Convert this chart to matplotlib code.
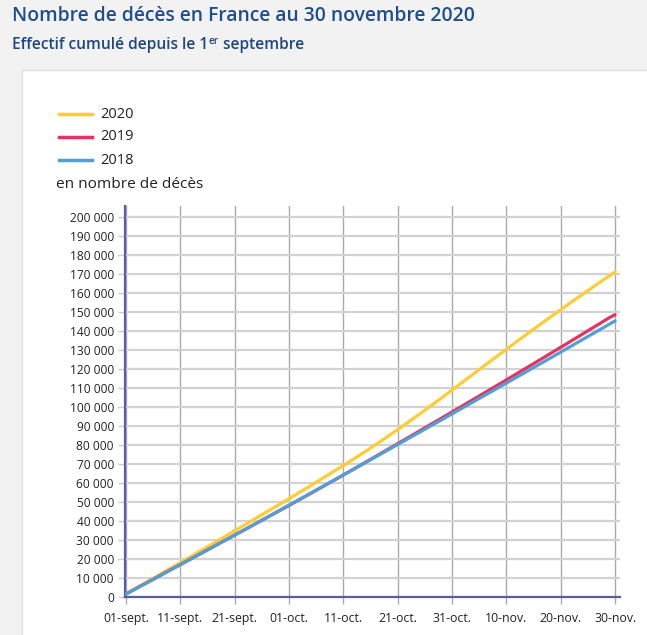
import matplotlib.pyplot as plt
from matplotlib.patches import Rectangle
from matplotlib.ticker import FuncFormatter

plt.rcParams['font.family'] = ['Open Sans', 'DejaVu Sans']

# cumulative deaths since 1 September, one value per day (01-sept. .. 30-nov.)
deaths_2020 = [1620, 3250, 4880, 6560, 8170, 9790, 11460, 13150, 14800, 16420,
               18050, 19730, 21390, 23080, 24760, 26400, 28080, 29790, 31470, 33180,
               34850, 36540, 38200, 39860, 41590, 43300, 44990, 46650, 48320, 50010,
               51720, 53450, 55200, 56930, 58660, 60420, 62190, 63950, 65740, 67530,
               69200, 71000, 72830, 74680, 76520, 78400, 80300, 82230, 84180, 86140,
               88120, 90130, 92150, 94190, 96250, 98330, 100420, 102530, 104650, 106800,
               108950, 111100, 113250, 115430, 117580, 119730, 121870, 124010, 126150, 128280,
               130410, 132530, 134650, 136760, 138860, 140950, 143030, 145100, 147150, 149190,
               151220, 153270, 155310, 157330, 159330, 161320, 163300, 165260, 167210, 169150,
               171080]
deaths_2019 = [1600, 3150, 4700, 6250, 7800, 9320, 10870, 12430, 13980, 15530,
               17080, 18620, 20150, 21700, 23260, 24800, 26350, 27900, 29460, 31010,
               32560, 34110, 35670, 37220, 38790, 40350, 41910, 43470, 45040, 46610,
               48180, 49770, 51360, 52950, 54550, 56150, 57760, 59370, 60990, 62610,
               64240, 65870, 67510, 69150, 70790, 72440, 74090, 75740, 77400, 79060,
               80720, 82380, 84040, 85700, 87370, 89040, 90710, 92380, 94050, 95720,
               97400, 99080, 100760, 102440, 104130, 105820, 107510, 109200, 110890, 112590,
               114290, 115990, 117690, 119400, 121110, 122820, 124540, 126260, 127980, 129710,
               131440, 133170, 134900, 136640, 138380, 140120, 141870, 143620, 145370, 147130,
               148600]
deaths_2018 = [1520, 3060, 4600, 6150, 7700, 9250, 10800, 12350, 13900, 15460,
               17010, 18560, 20120, 21680, 23240, 24800, 26360, 27920, 29480, 31040,
               32600, 34170, 35740, 37310, 38880, 40450, 42020, 43600, 45180, 46760,
               48340, 49920, 51500, 53080, 54670, 56260, 57850, 59440, 61030, 62620,
               64220, 65820, 67420, 69020, 70620, 72220, 73830, 75440, 77050, 78660,
               80270, 81880, 83490, 85100, 86710, 88320, 89930, 91540, 93160, 94780,
               96400, 98020, 99640, 101260, 102880, 104500, 106120, 107740, 109360, 110980,
               112600, 114230, 115860, 117490, 119120, 120750, 122380, 124010, 125640, 127280,
               128920, 130560, 132200, 133840, 135480, 137120, 138760, 140400, 142040, 143690,
               145340]

series_labels = ['2020', '2019', '2018']
series_colors = ['#ffcc33', '#e6325f', '#529fd8']

x_tick_days = [0, 10, 20, 30, 40, 50, 60, 70, 80, 90]
x_tick_labels = ['01-sept.', '11-sept.', '21-sept.', '01-oct.', '11-oct.',
                 '21-oct.', '31-oct.', '10-nov.', '20-nov.', '30-nov.']
y_ticks = list(range(0, 200001, 10000))

W, H = 647, 635
fig = plt.figure(figsize=(W / 100, H / 100), dpi=100, facecolor='#f2f2f2')

# white card behind the chart
fig.patches.append(Rectangle((22 / W, -0.01), 1, (H - 70) / H + 0.01, transform=fig.transFigure,
                             facecolor='white', edgecolor='#e2e2e2', lw=1, zorder=-5))

title_col = '#1f4e8a'
sub_col = '#1f467e'
fig.text(12 / W, 1 - 16 / H, 'Nombre de décès en France au 30 novembre 2020',
         fontsize=13.9, fontweight='semibold', color=title_col, va='center')

# subtitle with superscript "er"
fig.canvas.draw()
r = fig.canvas.get_renderer()
t1 = fig.text(12 / W, 1 - 45 / H, 'Effectif cumulé depuis le 1', fontsize=11.2,
              fontweight='semibold', color=sub_col, va='center')
bb = t1.get_window_extent(r)
t2 = fig.text(bb.x1 / W + 0.5 / W, 1 - 42 / H, 'er', fontsize=7.2,
              fontweight='semibold', color=sub_col, va='center')
bb2 = t2.get_window_extent(r)
fig.text(bb2.x1 / W, 1 - 45 / H, ' septembre', fontsize=11.2,
         fontweight='semibold', color=sub_col, va='center')

# legend drawn by hand
for i, (lab, col) in enumerate(zip(series_labels, series_colors)):
    y = 1 - (114 + 23 * i) / H
    fig.add_artist(plt.Line2D([59 / W, 92 / W], [y, y], color=col, lw=2.5,
                              transform=fig.transFigure))
    fig.text(100 / W, y, lab, fontsize=10.5, color='#222222', va='center')
fig.text(56 / W, 1 - 185 / H, 'en nombre de décès', fontsize=11.1, color='#222222',
         va='center')

ax = fig.add_axes([125 / W, 38 / H, 495 / W, 391 / H])
ax.set_facecolor('white')

days = list(range(len(deaths_2020)))
for vals, col in zip([deaths_2020, deaths_2019, deaths_2018], series_colors):
    ax.plot(days, vals, color=col, lw=2.3, solid_capstyle='round', zorder=3)

ax.set_xlim(-0.18, 90.9)
ax.set_ylim(0, 205800)
ax.set_yticks(y_ticks)
ax.yaxis.set_major_formatter(FuncFormatter(lambda v, p: f'{int(v):,}'.replace(',', ' ')))
ax.set_xticks(x_tick_days)
ax.set_xticklabels(x_tick_labels)

ax.grid(axis='y', color='#d2d2d2', lw=1.6, zorder=0)
ax.grid(axis='x', color='#aaaaaa', lw=1.0, zorder=0)
ax.set_axisbelow(True)

for s in ['top', 'right']:
    ax.spines[s].set_visible(False)
for s in ['left', 'bottom']:
    ax.spines[s].set_color('#5c5ca0')
    ax.spines[s].set_linewidth(1.6)

ax.tick_params(axis='y', length=5, width=1, color='#cccccc', labelsize=8.6,
               labelcolor='#222222', pad=3)
ax.tick_params(axis='x', length=5, width=1, color='#aaaaaa', labelsize=8.8,
               labelcolor='#222222', pad=6)

fig.savefig('out.png', dpi=100, facecolor=fig.get_facecolor())
